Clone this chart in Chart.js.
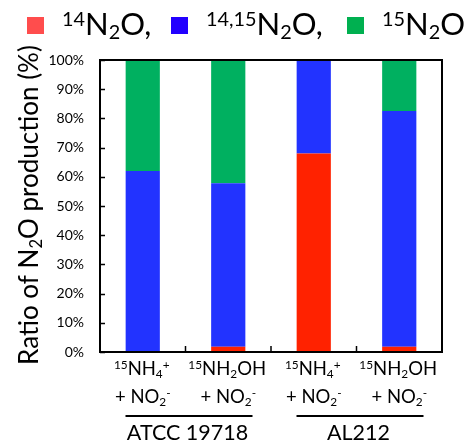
<!DOCTYPE html>
<html>
<head>
<meta charset="utf-8">
<script src="https://cdn.jsdelivr.net/npm/chart.js@4.4.0/dist/chart.umd.min.js"></script>
<style>
  body { margin: 0; background: #fff; }
</style>
</head>
<body>
<canvas id="chart" width="466" height="443"></canvas>
<script>
// categories (two label lines each) and the two strain groups
const categories = ['15NH4+ + NO2-', '15NH2OH + NO2-', '15NH4+ + NO2- (AL212)', '15NH2OH + NO2- (AL212)'];
const labelLine1 = ['^{15}NH_{4}^{+}', '^{15}NH_{2}OH', '^{15}NH_{4}^{+}', '^{15}NH_{2}OH'];
const labelLine2 = ['+ NO_{2}^{-}', '+ NO_{2}^{-}', '+ NO_{2}^{-}', '+ NO_{2}^{-}'];
const groups = ['ATCC 19718', 'AL212'];

// series (% of N2O production)
const seriesNames = ['^{14}N_{2}O,', '^{14,15}N_{2}O,', '^{15}N_{2}O'];
const n14 = [0, 1.8, 68, 1.8];
const n1415 = [62, 56, 32, 80.7];
const n15 = [38, 42.2, 0, 17.5];

const yTicks = [0, 10, 20, 30, 40, 50, 60, 70, 80, 90, 100];

const barColors = ['#ff2200', '#2233ff', '#00b060'];
const legendColors = ['#ff4d4d', '#2200ff', '#00b050'];
const legendX = [27, 171, 347];
const FONT = 'Lato, "Open Sans", sans-serif';

function parseRich(s) {
    let out = [];
    let re = /([\^_])\{([^}]*)\}|([^\^_]+)/g;
    let m;
    while ((m = re.exec(s))) {
        if (m[3]) out.push({ t: m[3], k: 'n' });
        else out.push({ t: m[2], k: m[1] === '^' ? 'sup' : 'sub' });
    }
    return out;
}

// draw text with ^{sup} and _{sub} parts, returns width
function drawRich(ctx, s, x, y, size, align) {
    let segs = parseRich(s);
    let small = size * 0.64;
    let w = 0;
    segs.forEach(sg => {
        ctx.font = (sg.k === 'n' ? size : small) + 'px ' + FONT;
        w += ctx.measureText(sg.t).width;
    });
    let cx = align === 'center' ? x - w / 2 : (align === 'right' ? x - w : x);
    ctx.textAlign = 'left';
    ctx.textBaseline = 'alphabetic';
    segs.forEach(sg => {
        ctx.font = (sg.k === 'n' ? size : small) + 'px ' + FONT;
        let dy = sg.k === 'sup' ? -size * 0.3 : (sg.k === 'sub' ? size * 0.14 : 0);
        ctx.fillText(sg.t, cx, y + dy);
        cx += ctx.measureText(sg.t).width;
    });
    return w;
}

const decorations = {
    id: 'decorations',
    afterDraw(chart) {
        const ctx = chart.ctx;
        const area = chart.chartArea;
        const xs = chart.scales.x;
        const ys = chart.scales.y;
        ctx.save();
        ctx.fillStyle = '#000';
        ctx.strokeStyle = '#000';

        // frame
        ctx.lineWidth = 2;
        ctx.strokeRect(area.left, area.top, area.right - area.left, area.bottom - area.top);

        // inward ticks
        ctx.lineWidth = 1.5;
        ctx.beginPath();
        yTicks.forEach(v => {
            let py = Math.round(ys.getPixelForValue(v)) + 0.5;
            ctx.moveTo(area.left, py);
            ctx.lineTo(area.left + 5, py);
        });
        for (let i = 1; i < categories.length; i++) {
            let px = (xs.getPixelForValue(i - 1) + xs.getPixelForValue(i)) / 2;
            ctx.moveTo(px, area.bottom);
            ctx.lineTo(px, area.bottom - 6);
        }
        ctx.stroke();

        // category labels
        categories.forEach((c, i) => {
            let px = xs.getPixelForValue(i);
            drawRich(ctx, labelLine1[i], px - 1, area.bottom + 23, 18.5, 'center');
            drawRich(ctx, labelLine2[i], px, area.bottom + 51, 18.5, 'center');
        });

        // group lines and names
        groups.forEach((g, gi) => {
            let cx = (xs.getPixelForValue(gi * 2) + xs.getPixelForValue(gi * 2 + 1)) / 2;
            ctx.lineWidth = 2;
            ctx.beginPath();
            ctx.moveTo(cx - 60, area.bottom + 64);
            ctx.lineTo(cx + 67, area.bottom + 64);
            ctx.stroke();
            drawRich(ctx, g, cx + 2, area.bottom + 88, 21.5, 'center');
        });

        // y axis title
        ctx.save();
        ctx.translate(38, 205);
        ctx.rotate(-Math.PI / 2);
        drawRich(ctx, 'Ratio of N_{2}O production (%)', 0, 0, 26, 'center');
        ctx.restore();

        // legend
        seriesNames.forEach((name, i) => {
            let lx = legendX[i];
            ctx.fillStyle = legendColors[i];
            ctx.fillRect(lx, 17, 17, 17);
            ctx.fillStyle = '#000';
            drawRich(ctx, name, lx + 35, 35, 31, 'left');
        });
        ctx.restore();
    }
};

new Chart(document.getElementById('chart'), {
    type: 'bar',
    data: {
        labels: categories,
        datasets: [
            { label: '14N2O', data: n14, backgroundColor: barColors[0] },
            { label: '14,15N2O', data: n1415, backgroundColor: barColors[1] },
            { label: '15N2O', data: n15, backgroundColor: barColors[2] }
        ]
    },
    options: {
        responsive: false,
        animation: false,
        layout: { padding: { top: 60, right: 24, bottom: 91, left: 0 } },
        datasets: { bar: { barPercentage: 0.8, categoryPercentage: 0.5 } },
        plugins: { legend: { display: false }, tooltip: { enabled: false } },
        scales: {
            x: {
                stacked: true,
                grid: { display: false },
                border: { display: false },
                ticks: { display: false },
                afterFit: s => { s.height = 0; }
            },
            y: {
                stacked: true,
                min: 0,
                max: 100,
                grid: { display: false, drawTicks: false },
                border: { display: false },
                ticks: {
                    stepSize: 10,
                    padding: 16,
                    color: '#000',
                    font: { family: FONT, size: 14 },
                    callback: v => v + '%'
                },
                afterFit: s => { s.width = 100; }
            }
        }
    },
    plugins: [decorations]
});
</script>
</body>
</html>
